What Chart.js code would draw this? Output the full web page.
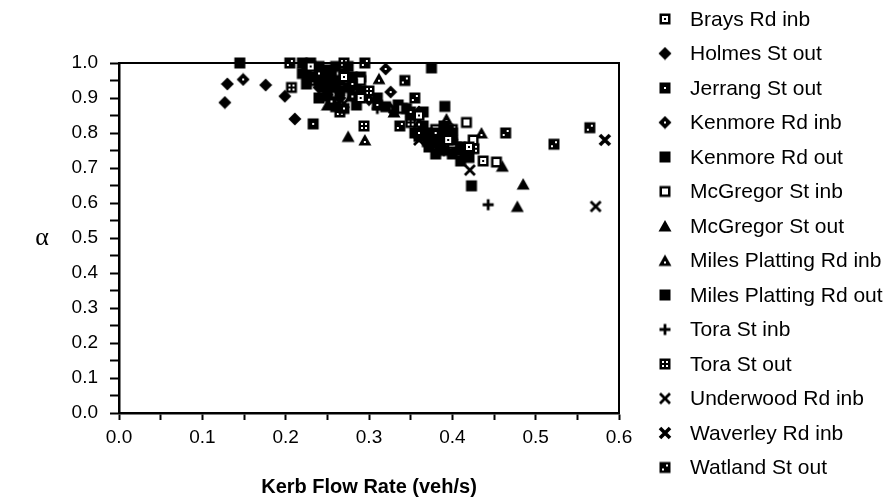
<!DOCTYPE html>
<html>
<head>
<meta charset="utf-8">
<script src="https://cdn.jsdelivr.net/npm/chart.js@4.4.1/dist/chart.umd.min.js"></script>
<style>
  body { margin: 0; background: #fff; }
  canvas { display: block; }
</style>
</head>
<body>
<canvas id="myChart" width="884" height="499"></canvas>
<script>
// kerb flow rate (veh/s) vs alpha, one array of [x, y] per site
const brays = [[0.437, 0.72], [0.42, 0.76], [0.27, 0.96], [0.29, 0.90], [0.36, 0.85], [0.395, 0.78], [0.23, 0.99]];
const holmes = [[0.13, 0.94], [0.127, 0.887], [0.176, 0.937], [0.211, 0.84], [0.199, 0.905], [0.24, 0.93], [0.265, 0.90], [0.225, 0.96]];
const jerrang = [[0.233, 0.826], [0.255, 0.89], [0.28, 0.94], [0.31, 0.88], [0.35, 0.86], [0.38, 0.80], [0.27, 0.87], [0.36, 0.80]];
const kenmoreInb = [[0.149, 0.953], [0.32, 0.983], [0.326, 0.917], [0.28, 0.93], [0.24, 0.97], [0.30, 0.895], [0.36, 0.86]];
const kenmoreOut = [[0.145, 1.0], [0.375, 0.986], [0.391, 0.876], [0.423, 0.649], [0.22, 1.0], [0.25, 0.98], [0.26, 0.94], [0.37, 0.80],
  [0.385, 0.76], [0.40, 0.78], [0.39, 0.82], [0.24, 0.90], [0.345, 0.87], [0.365, 0.86], [0.41, 0.76], [0.40, 0.80]];
const mcgregorInb = [[0.417, 0.83], [0.453, 0.717], [0.40, 0.77], [0.38, 0.81], [0.29, 0.95], [0.34, 0.87], [0.425, 0.78]];
const mcgregorOut = [[0.275, 0.79], [0.478, 0.59], [0.485, 0.654], [0.46, 0.705], [0.37, 0.80], [0.39, 0.76], [0.25, 0.88], [0.33, 0.86], [0.41, 0.75]];
const milesInb = [[0.295, 0.78], [0.312, 0.955], [0.393, 0.84], [0.435, 0.80], [0.28, 0.91], [0.36, 0.83]];
const milesOut = [[0.23, 1.0], [0.235, 0.96], [0.245, 0.93], [0.25, 0.95], [0.26, 0.99], [0.265, 0.92], [0.27, 0.97], [0.28, 0.96],
  [0.285, 0.94], [0.29, 0.92], [0.31, 0.90], [0.32, 0.875], [0.335, 0.88], [0.35, 0.85], [0.365, 0.82], [0.375, 0.79],
  [0.38, 0.77], [0.385, 0.80], [0.39, 0.75], [0.395, 0.79], [0.40, 0.74], [0.405, 0.76], [0.41, 0.72], [0.415, 0.74],
  [0.42, 0.73], [0.372, 0.76], [0.36, 0.79], [0.355, 0.80], [0.22, 0.97], [0.24, 0.99], [0.225, 0.94], [0.24, 0.95],
  [0.245, 0.97], [0.255, 0.93], [0.255, 0.965], [0.265, 0.95], [0.275, 0.93], [0.275, 0.99], [0.28, 0.905], [0.29, 0.96],
  [0.25, 0.905], [0.26, 0.875], [0.285, 0.88], [0.38, 0.74], [0.385, 0.785], [0.395, 0.81], [0.37, 0.775]];
const toraInb = [[0.443, 0.595], [0.39, 0.79], [0.26, 0.93], [0.31, 0.87]];
const toraOut = [[0.207, 0.93], [0.294, 0.82], [0.426, 0.755], [0.23, 0.95], [0.27, 1.0], [0.265, 0.86], [0.35, 0.83], [0.30, 0.92]];
const underwood = [[0.572, 0.59], [0.421, 0.694], [0.385, 0.75], [0.27, 0.885], [0.36, 0.78]];
const waverley = [[0.583, 0.78], [0.40, 0.77], [0.33, 0.87], [0.25, 0.92]];
const watland = [[0.565, 0.815], [0.522, 0.768], [0.464, 0.80], [0.343, 0.95], [0.337, 0.82], [0.205, 1.0], [0.295, 1.0], [0.355, 0.90], [0.40, 0.81], [0.225, 0.98]];

const siteNames = ["Brays Rd inb", "Holmes St out", "Jerrang St out", "Kenmore Rd inb", "Kenmore Rd out",
  "McGregor St inb", "McGregor St out", "Miles Platting Rd inb", "Miles Platting Rd out", "Tora St inb",
  "Tora St out", "Underwood Rd inb", "Waverley Rd inb", "Watland St out"];
const siteData = [brays, holmes, jerrang, kenmoreInb, kenmoreOut, mcgregorInb, mcgregorOut, milesInb, milesOut,
  toraInb, toraOut, underwood, waverley, watland];
const siteMarkers = ["sqDotHole", "diamond", "sqDot", "diamondDot", "square", "sqHollow", "tri", "triDot", "square",
  "plus", "sq4", "cross", "crossBold", "sq2"];

// little black marker glyphs drawn once onto canvases
function makeMarker(kind) {
  const s = 14;
  const c = document.createElement("canvas");
  c.width = s;
  c.height = s;
  const g = c.getContext("2d");
  const h = s / 2;
  g.fillStyle = "#000";
  g.strokeStyle = "#000";
  const square = () => g.fillRect(1.5, 1.5, s - 3, s - 3);
  const diamond = () => {
    g.beginPath();
    g.moveTo(h, 0.5); g.lineTo(s - 0.5, h); g.lineTo(h, s - 0.5); g.lineTo(0.5, h);
    g.closePath(); g.fill();
  };
  const tri = () => {
    g.beginPath();
    g.moveTo(h, 1); g.lineTo(s - 0.5, s - 1.5); g.lineTo(0.5, s - 1.5);
    g.closePath(); g.fill();
  };
  const white = (x, y, w) => { g.fillStyle = "#fff"; g.fillRect(x, y, w, w); g.fillStyle = "#000"; };
  if (kind === "square") {
    square();
  } else if (kind === "sqDotHole") {
    square(); white(h - 3, h - 3, 6); g.fillRect(h - 1, h - 1, 2, 2);
  } else if (kind === "sqDot") {
    square(); white(h - 1, h - 1, 2);
  } else if (kind === "sqHollow") {
    square(); white(h - 3, h - 3, 6);
  } else if (kind === "sq4") {
    square(); white(h - 3, h - 3, 2); white(h + 1, h - 3, 2); white(h - 3, h + 1, 2); white(h + 1, h + 1, 2);
  } else if (kind === "sq2") {
    square(); white(h + 1, h - 3, 2); white(h - 3, h + 1, 2);
  } else if (kind === "diamond") {
    diamond();
  } else if (kind === "diamondDot") {
    diamond(); white(h - 1, h - 1, 2);
  } else if (kind === "tri") {
    tri();
  } else if (kind === "triDot") {
    tri(); white(h - 1, h + 1, 2);
  } else if (kind === "plus") {
    g.lineWidth = 2.8;
    g.beginPath(); g.moveTo(h, 1.5); g.lineTo(h, s - 1.5); g.moveTo(1.5, h); g.lineTo(s - 1.5, h); g.stroke();
  } else if (kind === "cross" || kind === "crossBold") {
    g.lineWidth = kind === "cross" ? 2.8 : 3.6;
    g.beginPath(); g.moveTo(2, 2); g.lineTo(s - 2, s - 2); g.moveTo(s - 2, 2); g.lineTo(2, s - 2); g.stroke();
    if (kind === "crossBold") { g.fillRect(h - 2, h - 2, 4, 4); }
  }
  return c;
}

const datasets = siteNames.map((name, i) => ({
  label: name,
  data: siteData[i].map(p => ({ x: p[0], y: p[1] })),
  pointStyle: makeMarker(siteMarkers[i]),
  pointRadius: 6,
  backgroundColor: "#000",
  borderColor: "#000",
  clip: false,
}));

const FONT = '"Liberation Sans", Arial, Helvetica, sans-serif';

function tickLabel(value) {
  return Math.round(value * 100) % 10 === 0 ? value.toFixed(1) : "";
}

// frame, alpha label and the legend column on the right
const extras = {
  id: "extras",
  beforeDatasetsDraw(chart) {
    const { ctx, chartArea: a } = chart;
    ctx.save();
    ctx.strokeStyle = "#000";
    ctx.lineWidth = 2;
    ctx.beginPath();
    ctx.moveTo(a.left, a.top);
    ctx.lineTo(a.right, a.top);
    ctx.lineTo(a.right, a.bottom);
    ctx.stroke();
    ctx.restore();
  },
  afterDraw(chart) {
    const { ctx, chartArea: a } = chart;
    ctx.save();
    ctx.fillStyle = "#000";
    ctx.textBaseline = "middle";
    ctx.textAlign = "center";
    ctx.font = '26px "Liberation Serif", serif';
    ctx.fillText("α", 42, (a.top + a.bottom) / 2);
    ctx.textAlign = "left";
    ctx.font = "21px " + FONT;
    const markerX = a.right + 46;
    chart.data.datasets.forEach((ds, i) => {
      const y = 19 + i * 34.5;
      const img = ds.pointStyle;
      ctx.drawImage(img, markerX - img.width / 2, y - img.height / 2);
      ctx.fillText(ds.label, markerX + 25, y + 1);
    });
    ctx.restore();
  },
};

new Chart(document.getElementById("myChart"), {
  type: "scatter",
  data: { datasets },
  options: {
    responsive: false,
    animation: false,
    layout: { padding: { left: 0, right: 265, top: 63, bottom: 0 } },
    plugins: { legend: { display: false }, tooltip: { enabled: false } },
    scales: {
      x: {
        type: "linear",
        min: 0,
        max: 0.6,
        afterFit: s => { s.height = 86; },
        ticks: { stepSize: 0.05, autoSkip: false, maxRotation: 0, callback: tickLabel, color: "#000", padding: 6, font: { family: FONT, size: 19 } },
        grid: { drawOnChartArea: false, tickLength: 7, tickColor: "#000", tickWidth: 2 },
        border: { display: true, color: "#000", width: 2.5 },
        title: { display: true, text: "Kerb Flow Rate (veh/s)", color: "#000", padding: { top: 0, bottom: 0 }, font: { family: FONT, size: 20, weight: "bold" } },
      },
      y: {
        min: 0,
        max: 1,
        afterFit: s => { s.width = 119; },
        ticks: { stepSize: 0.05, autoSkip: false, callback: tickLabel, color: "#000", padding: 12, font: { family: FONT, size: 19 } },
        grid: { drawOnChartArea: false, tickLength: 9, tickColor: "#000", tickWidth: 2 },
        border: { display: true, color: "#000", width: 2.5 },
      },
    },
  },
  plugins: [extras],
});
</script>
</body>
</html>
